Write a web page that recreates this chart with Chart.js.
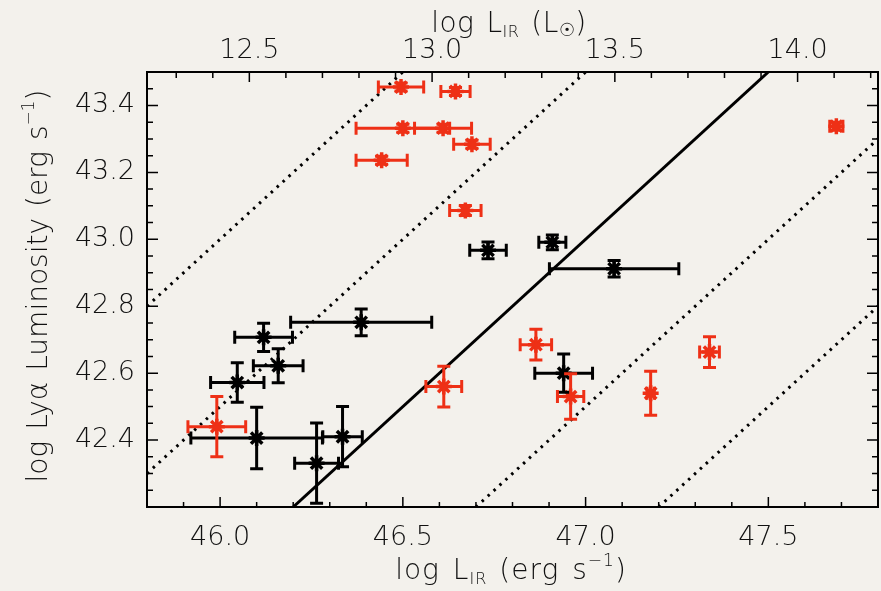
<!DOCTYPE html>
<html>
<head>
<meta charset="utf-8">
<script src="https://cdn.jsdelivr.net/npm/chart.js@4.4.1/dist/chart.umd.min.js"></script>
<style>
body{margin:0;background:#f3f1ec;}
#grafico{display:block;}
</style>
</head>
<body>
<canvas id="grafico" width="881" height="591"></canvas>
<script>
// red sample
var redX    = [46.495, 46.644, 46.500, 46.610, 46.689, 46.442, 46.671, 46.864, 46.959, 47.178, 47.339, 47.686, 45.991, 46.612];
var redY    = [43.455, 43.442, 43.332, 43.332, 43.284, 43.236, 43.086, 42.685, 42.530, 42.540, 42.663, 43.338, 42.440, 42.560];
var redXErr = [0.062, 0.040, 0.128, 0.078, 0.050, 0.070, 0.043, 0.043, 0.036, 0.010, 0.027, 0.018, 0.079, 0.049];
var redYErr = [0.012, 0.012, 0.012, 0.012, 0.012, 0.012, 0.015, 0.046, 0.068, 0.066, 0.046, 0.012, 0.090, 0.061];

// black sample
var blackX    = [46.733, 46.909, 47.078, 46.940, 46.386, 46.119, 46.159, 46.047, 46.100, 46.335, 46.264];
var blackY    = [42.967, 42.991, 42.912, 42.600, 42.752, 42.707, 42.622, 42.572, 42.406, 42.410, 42.331];
var blackXErr = [0.050, 0.037, 0.177, 0.079, 0.193, 0.079, 0.068, 0.073, 0.180, 0.054, 0.060];
var blackYErr = [0.025, 0.022, 0.025, 0.057, 0.040, 0.042, 0.051, 0.059, 0.092, 0.090, 0.120];

// reference lines (end points)
var solidLine = [[46.2, 42.2], [47.5, 43.5]];
var dottedLines = [
    [[45.8, 42.8], [46.5, 43.5]],
    [[45.8, 42.3], [47.0, 43.5]],
    [[46.7, 42.2], [47.8, 43.3]],
    [[47.2, 42.2], [47.8, 42.8]]
];

// axes
var xRange = [45.8, 47.8];
var yRange = [42.2, 43.5];
var lsunOffset = 33.58;
var bottomLabels = [46.0, 46.5, 47.0, 47.5];
var topLabels = [12.5, 13.0, 13.5, 14.0];
var leftLabels = [42.4, 42.6, 42.8, 43.0, 43.2, 43.4];

var red = '#ee3016';
var fontFam = '"DejaVu Sans", sans-serif';

function pts(xs, ys) {
    return xs.map(function(x, i){ return {x: x, y: ys[i]}; });
}
function linePts(l) {
    return l.map(function(p){ return {x: p[0], y: p[1]}; });
}
function isLabel(v, list) {
    for (var i = 0; i < list.length; i++) if (Math.abs(v - list[i]) < 1e-6) return true;
    return false;
}
function minorTicks(scale, per) {
    var t = [];
    for (var i = Math.ceil(scale.min * per - 1e-6); i <= Math.floor(scale.max * per + 1e-6); i++) t.push({value: i / per});
    scale.ticks = t;
}
// keep chart.js from padding the plot box for tick labels
function noPad(s) {
    s.paddingLeft = 0; s.paddingRight = 0; s.paddingTop = 0; s.paddingBottom = 0;
}

var datasets = [];
datasets.push({
    label: 'solid', data: linePts(solidLine), showLine: true,
    borderColor: '#000', borderWidth: 3, pointRadius: 0
});
dottedLines.forEach(function(l, i){
    datasets.push({
        label: 'dotted' + i, data: linePts(l), showLine: true,
        borderColor: '#000', borderWidth: 3, borderDash: [2.5, 5.5], pointRadius: 0
    });
});
datasets.push({
    label: 'black', data: pts(blackX, blackY), xErr: blackXErr, yErr: blackYErr,
    pointStyle: 'star', pointRadius: 8, borderWidth: 3.5, borderColor: '#000', backgroundColor: '#000'
});
datasets.push({
    label: 'red', data: pts(redX, redY), xErr: redXErr, yErr: redYErr,
    pointStyle: 'star', pointRadius: 8, borderWidth: 3.5, borderColor: red, backgroundColor: red
});

var paper = {
    id: 'paper',
    beforeDraw: function(chart) {
        var ctx = chart.ctx;
        ctx.save();
        ctx.fillStyle = '#f3f1ec';
        ctx.fillRect(0, 0, chart.width, chart.height);
        ctx.restore();
    }
};

var errorBars = {
    id: 'errorBars',
    afterDatasetsDraw: function(chart) {
        var ctx = chart.ctx, xs = chart.scales.x, ys = chart.scales.y;
        var cap = 6.5;
        ctx.save();
        ctx.lineWidth = 3;
        chart.data.datasets.forEach(function(ds){
            if (!ds.xErr) return;
            ctx.strokeStyle = ds.borderColor;
            ds.data.forEach(function(p, i){
                var px = xs.getPixelForValue(p.x), py = ys.getPixelForValue(p.y);
                var x0 = xs.getPixelForValue(p.x - ds.xErr[i]), x1 = xs.getPixelForValue(p.x + ds.xErr[i]);
                var y0 = ys.getPixelForValue(p.y - ds.yErr[i]), y1 = ys.getPixelForValue(p.y + ds.yErr[i]);
                ctx.beginPath();
                ctx.moveTo(x0, py); ctx.lineTo(x1, py);
                ctx.moveTo(x0, py - cap); ctx.lineTo(x0, py + cap);
                ctx.moveTo(x1, py - cap); ctx.lineTo(x1, py + cap);
                ctx.moveTo(px, y0); ctx.lineTo(px, y1);
                ctx.moveTo(px - cap, y0); ctx.lineTo(px + cap, y0);
                ctx.moveTo(px - cap, y1); ctx.lineTo(px + cap, y1);
                ctx.stroke();
            });
        });
        ctx.restore();
    }
};

// text pieces: t text, s size, dy shift, g extra gap after
function drawParts(ctx, parts, x, y) {
    var total = 0;
    parts.forEach(function(p){
        ctx.font = '200 ' + (p.s || 28) + 'px ' + fontFam;
        p.w = ctx.measureText(p.t).width + (p.g || 0);
        total += p.w;
    });
    var cx = x - total / 2;
    parts.forEach(function(p){
        ctx.font = '200 ' + (p.s || 28) + 'px ' + fontFam;
        ctx.fillText(p.t, cx, y + (p.dy || 0));
        cx += p.w;
    });
}

var frame = {
    id: 'frame',
    afterDraw: function(chart) {
        var ctx = chart.ctx, a = chart.chartArea;
        var xs = chart.scales.x, x2 = chart.scales.x2, ys = chart.scales.y;
        ctx.save();
        ctx.strokeStyle = '#000';
        ctx.lineWidth = 1.5;
        ctx.beginPath();
        xs.ticks.forEach(function(t){
            var p = xs.getPixelForValue(t.value), len = isLabel(t.value, bottomLabels) ? 10 : 5;
            ctx.moveTo(p, a.bottom); ctx.lineTo(p, a.bottom - len);
        });
        x2.ticks.forEach(function(t){
            var p = x2.getPixelForValue(t.value), len = isLabel(t.value, topLabels) ? 10 : 6;
            ctx.moveTo(p, a.top); ctx.lineTo(p, a.top + len);
        });
        ys.ticks.forEach(function(t){
            var p = ys.getPixelForValue(t.value), len = isLabel(t.value, leftLabels) ? 11 : 6;
            ctx.moveTo(a.left, p); ctx.lineTo(a.left + len, p);
            ctx.moveTo(a.right, p); ctx.lineTo(a.right - len, p);
        });
        ctx.stroke();
        ctx.lineWidth = 2;
        ctx.strokeRect(a.left, a.top, a.right - a.left, a.bottom - a.top);

        // axis titles
        ctx.fillStyle = '#111';
        ctx.textAlign = 'left';
        ctx.textBaseline = 'alphabetic';
        ctx.letterSpacing = '1px';
        drawParts(ctx, [{t: 'log', g: 13}, {t: 'L'}, {t: 'IR', s: 16, dy: 5, g: 12}, {t: '(erg', g: 13}, {t: 's'}, {t: '\u22121', s: 17, dy: -13}, {t: ')'}], 511, 579);
        ctx.letterSpacing = '0.5px';
        drawParts(ctx, [{t: 'log', g: 12}, {t: 'L'}, {t: 'IR', s: 16, dy: 5, g: 12}, {t: '(L'}, {t: '\u2609', s: 18, dy: 4}, {t: ')'}], 509, 32);
        ctx.letterSpacing = '0px';
        ctx.translate(38, 286);
        ctx.rotate(-Math.PI / 2);
        drawParts(ctx, [{t: 'log', g: 11}, {t: 'Ly\u03b1', g: 11}, {t: 'Luminosity', g: 11}, {t: '(erg', g: 11}, {t: 's'}, {t: '\u22121', s: 17, dy: -13}, {t: ')'}], 0, 9);
        ctx.restore();
    }
};

var tickFont = {family: fontFam, size: 27, weight: '200'};

var ctx = document.querySelector('#grafico').getContext('2d');
var chart = new Chart(ctx, {
    type: 'scatter',
    data: {datasets: datasets},
    options: {
        responsive: false,
        animation: false,
        layout: {autoPadding: false, padding: {left: 0, right: 3, top: 0, bottom: 0}},
        plugins: {legend: {display: false}, tooltip: {enabled: false}},
        scales: {
            x: {
                type: 'linear', position: 'bottom', min: xRange[0], max: xRange[1],
                afterBuildTicks: function(s){ minorTicks(s, 10); },
                afterFit: function(s){ s.height = 84; noPad(s); },
                grid: {drawOnChartArea: false, drawTicks: false},
                border: {display: false},
                ticks: {
                    autoSkip: false, maxRotation: 0, padding: 15, color: '#111', font: tickFont,
                    callback: function(v){ return isLabel(v, bottomLabels) ? v.toFixed(1) : ''; }
                }
            },
            x2: {
                type: 'linear', position: 'top', min: xRange[0] - lsunOffset, max: xRange[1] - lsunOffset,
                afterBuildTicks: function(s){ minorTicks(s, 10); },
                afterFit: function(s){ s.height = 72; noPad(s); },
                grid: {drawOnChartArea: false, drawTicks: false},
                border: {display: false},
                ticks: {
                    autoSkip: false, maxRotation: 0, padding: 5, color: '#111', font: tickFont,
                    callback: function(v){ return isLabel(v, topLabels) ? v.toFixed(1) : ''; }
                }
            },
            y: {
                type: 'linear', position: 'left', min: yRange[0], max: yRange[1],
                afterBuildTicks: function(s){ minorTicks(s, 20); },
                afterFit: function(s){ s.width = 147; noPad(s); },
                grid: {drawOnChartArea: false, drawTicks: false},
                border: {display: false},
                ticks: {
                    autoSkip: false, padding: 12, color: '#111', font: tickFont,
                    callback: function(v){ return isLabel(v, leftLabels) ? v.toFixed(1) : ''; }
                }
            }
        }
    },
    plugins: [paper, errorBars, frame]
});
</script>
</body>
</html>
